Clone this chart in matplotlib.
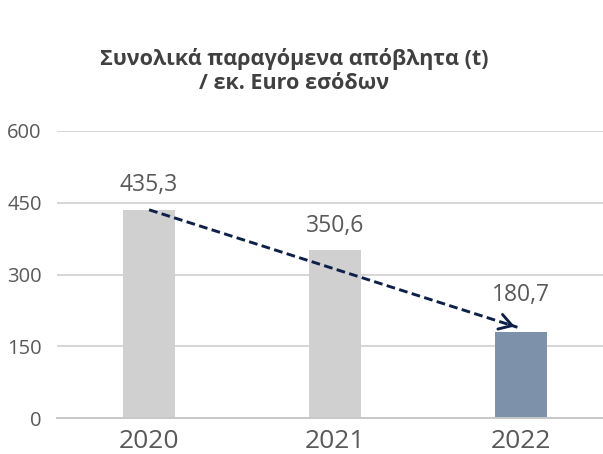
import matplotlib.pyplot as plt

plt.rcParams['font.family'] = ['Open Sans', 'DejaVu Sans']

# data
years = ['2020', '2021', '2022']
values = [435.3, 350.6, 180.7]
labels = ['435,3', '350,6', '180,7']
bar_colors = ['#d0d0d0', '#d0d0d0', '#7d91aa']
yticks = [0, 150, 300, 450, 600]

fig = plt.figure(figsize=(6.03, 4.54), dpi=100)
ax = fig.add_axes([57 / 603, 36 / 454, 546 / 603, 287 / 454])

x = list(range(len(years)))
ax.bar(x, values, width=0.276, color=bar_colors, zorder=2)

# value labels above bars
offsets = [9, 9, 18]
for xi, v, lab, off in zip(x, values, labels, offsets):
    ax.annotate(lab, (xi, v), xytext=(0, off), textcoords='offset points',
                ha='center', va='bottom', fontsize=16.5, color='#595959')

# dashed trend arrow from first to last bar
x0, y0 = 0, values[0]
x1, y1 = 1.98, values[-1] + 9
ax.plot([x0, x1], [y0, y1], color='#0e1f4a', lw=2.1, dashes=(3, 1.5), zorder=3)
ax.annotate('', xy=(x1, y1), xytext=(x1 - 0.06, y1 + 0.06 * (y0 - y1) / (x1 - x0)),
            arrowprops=dict(arrowstyle='->,head_length=0.9,head_width=0.55',
                            color='#0e1f4a', lw=2.1), zorder=4)

ax.set_xlim(-0.495, 2.44)
ax.set_ylim(0, 600)
ax.set_xticks(x)
ax.set_xticklabels(years, fontsize=19, color='#595959')
ax.tick_params(axis='both', length=0)
ax.set_yticks(yticks)
ax.set_yticklabels([str(t) for t in yticks], fontsize=14.5, color='#595959')
ax.tick_params(axis='y', pad=11)
ax.tick_params(axis='x', pad=8)
ax.yaxis.grid(True, color='#d0d0d0', lw=1.2, zorder=0)
for s in ['top', 'right', 'left']:
    ax.spines[s].set_visible(False)
ax.spines['bottom'].set_color('#c8c8c8')
ax.spines['bottom'].set_linewidth(1.4)

fig.text(294 / 603, 1 - 71 / 454, 'Συνολικά παραγόμενα απόβλητα (t)\n/ εκ. Euro εσόδων',
         ha='center', va='center', fontsize=15.5, fontweight='bold',
         color='#404040', linespacing=1.2)

fig.savefig('out.png', dpi=100)
